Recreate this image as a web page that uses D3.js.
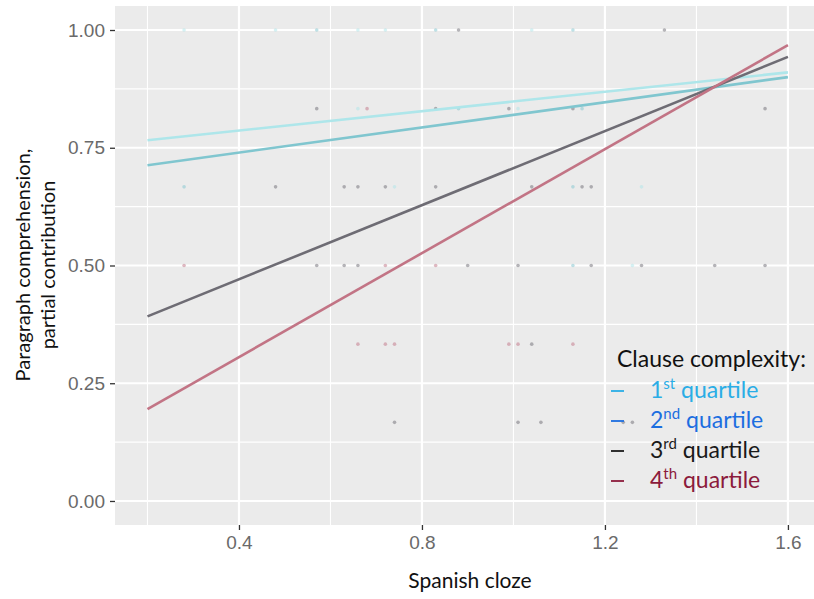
<!DOCTYPE html>
<html>
<head>
<script src="https://cdn.jsdelivr.net/npm/d3@7"></script>
<style>
  body { margin: 0; background: #fff; }
  text { font-family: "Liberation Sans", Arial, sans-serif; }
  .lab { font-family: Lato, "Open Sans", sans-serif; }
</style>
</head>
<body>
<svg id="chart" width="814" height="599"></svg>
<script>
// fitted lines: x from 0.2 to 1.6
var groups = ["1st", "2nd", "3rd", "4th"];
var groupSup = ["st", "nd", "rd", "th"];
var groupNum = ["1", "2", "3", "4"];
var lineStart = [0.766, 0.713, 0.392, 0.195];
var lineEnd = [0.91, 0.90, 0.943, 0.968];
var lineColors = ["#aee6ea", "#80c6cf", "#6e6c74", "#c27485"];
var legendColors = ["#2aade6", "#1c6ee0", "#1a1a1a", "#8c1b3c"];

// faint points: [x, y, group]
var points = [
  [0.28,1,0],[0.48,1,0],[0.57,1,1],[0.66,1,0],[0.72,1,0],[0.83,1,1],[0.88,1,2],[1.04,1,0],[1.13,1,1],[1.33,1,2],
  [0.57,0.833,2],[0.66,0.833,0],[0.68,0.833,3],[0.83,0.833,2],[0.88,0.833,1],[0.99,0.833,2],[1.01,0.833,0],[1.13,0.833,2],[1.15,0.833,1],[1.55,0.833,2],
  [0.28,0.667,1],[0.48,0.667,2],[0.63,0.667,2],[0.66,0.667,2],[0.72,0.667,2],[0.74,0.667,0],[0.83,0.667,2],[1.04,0.667,2],[1.13,0.667,1],[1.15,0.667,2],[1.17,0.667,2],[1.28,0.667,0],
  [0.28,0.5,3],[0.57,0.5,2],[0.63,0.5,2],[0.66,0.5,2],[0.72,0.5,3],[0.83,0.5,3],[0.9,0.5,2],[1.01,0.5,2],[1.13,0.5,1],[1.17,0.5,2],[1.26,0.5,0],[1.28,0.5,2],[1.44,0.5,2],[1.55,0.5,2],
  [0.66,0.333,3],[0.72,0.333,3],[0.74,0.333,3],[0.99,0.333,3],[1.01,0.333,3],[1.04,0.333,2],[1.13,0.333,3],
  [0.74,0.167,2],[1.01,0.167,2],[1.06,0.167,2],[1.24,0.167,2],[1.26,0.167,2]
];

var xTicks = [0.4, 0.8, 1.2, 1.6];
var xMinor = [0.2, 0.6, 1.0, 1.4];
var yTicks = [0, 0.25, 0.5, 0.75, 1];
var yMinor = [0.125, 0.375, 0.625, 0.875];

var pL = 115, pR = 814, pT = 6, pB = 525;
var x = d3.scaleLinear().domain([0.129, 1.657]).range([pL, pR]);
var y = d3.scaleLinear().domain([-0.051, 1.051]).range([pB, pT]);

var svg = d3.select("#chart");

svg.append("rect").attr("x", pL).attr("y", pT)
  .attr("width", pR - pL).attr("height", pB - pT).attr("fill", "#ebebeb");

// gridlines
svg.selectAll(".gxm").data(xMinor).enter().append("line")
  .attr("x1", d => x(d)).attr("x2", d => x(d)).attr("y1", pT).attr("y2", pB)
  .attr("stroke", "#fff").attr("stroke-width", 1.1);
svg.selectAll(".gym").data(yMinor).enter().append("line")
  .attr("y1", d => y(d)).attr("y2", d => y(d)).attr("x1", pL).attr("x2", pR)
  .attr("stroke", "#fff").attr("stroke-width", 1.1);
svg.selectAll(".gx").data(xTicks).enter().append("line")
  .attr("x1", d => x(d)).attr("x2", d => x(d)).attr("y1", pT).attr("y2", pB)
  .attr("stroke", "#fff").attr("stroke-width", 2.2);
svg.selectAll(".gy").data(yTicks).enter().append("line")
  .attr("y1", d => y(d)).attr("y2", d => y(d)).attr("x1", pL).attr("x2", pR)
  .attr("stroke", "#fff").attr("stroke-width", 2.2);

// points
svg.selectAll(".pt").data(points).enter().append("circle")
  .attr("cx", d => x(d[0])).attr("cy", d => y(d[1])).attr("r", 1.8)
  .attr("fill", d => lineColors[d[2]]).attr("opacity", 0.5);

// lines
svg.selectAll(".fit").data(groups).enter().append("line")
  .attr("x1", x(0.2)).attr("x2", x(1.6))
  .attr("y1", (d, i) => y(lineStart[i])).attr("y2", (d, i) => y(lineEnd[i]))
  .attr("stroke", (d, i) => lineColors[i]).attr("stroke-width", 2.6);

// axes
var xAxis = svg.append("g").attr("transform", "translate(0," + pB + ")")
  .call(d3.axisBottom(x).tickValues(xTicks).tickFormat(d3.format(".1f")).tickSize(5).tickPadding(6));
var yAxis = svg.append("g").attr("transform", "translate(" + pL + ",0)")
  .call(d3.axisLeft(y).tickValues(yTicks).tickFormat(d3.format(".2f")).tickSize(5).tickPadding(5));
[xAxis, yAxis].forEach(function (a) {
  a.select(".domain").remove();
  a.selectAll(".tick line").attr("stroke", "#333").attr("stroke-width", 1.3);
  a.selectAll(".tick text").attr("fill", "#6a6a6a")
    .style("font-size", "19px").style("font-family", "'Liberation Sans', Arial, sans-serif");
});

// axis titles
svg.append("text").attr("class", "lab").attr("x", 470).attr("y", 588)
  .attr("text-anchor", "middle").style("font-size", "21px").attr("fill", "#111").text("Spanish cloze");
svg.append("text").attr("class", "lab")
  .attr("transform", "translate(30,265) rotate(-90)")
  .attr("text-anchor", "middle").style("font-size", "20px").attr("fill", "#111").text("Paragraph comprehension,");
svg.append("text").attr("class", "lab")
  .attr("transform", "translate(55,265) rotate(-90)")
  .attr("text-anchor", "middle").style("font-size", "20px").attr("fill", "#111").text("partial contribution");

// legend
var lg = svg.append("g");
lg.append("text").attr("class", "lab").attr("x", 617).attr("y", 367)
  .style("font-size", "23px").attr("fill", "#111").text("Clause complexity:");
groups.forEach(function (g, i) {
  var yy = 398 + i * 30;
  lg.append("line").attr("x1", 611).attr("x2", 624).attr("y1", yy - 7).attr("y2", yy - 7)
    .attr("stroke", legendColors[i]).attr("stroke-width", 1.8);
  var t = lg.append("text").attr("class", "lab").attr("x", 650).attr("y", yy)
    .style("font-size", "23px").attr("fill", legendColors[i]);
  t.append("tspan").text(groupNum[i]);
  t.append("tspan").attr("dy", -9).style("font-size", "15px").text(groupSup[i]);
  t.append("tspan").attr("dy", 9).text(" quartile");
});
</script>
</body>
</html>
